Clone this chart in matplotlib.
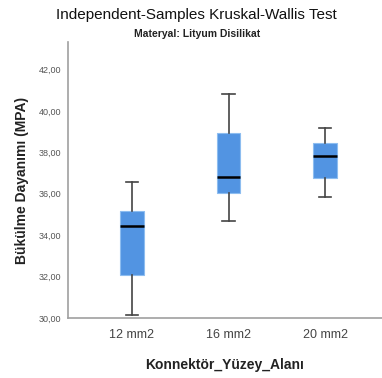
import matplotlib
matplotlib.use("Agg")
import matplotlib.pyplot as plt

categories = ["12 mm2", "16 mm2", "20 mm2"]
whislo = [30.13, 34.70, 35.86]
q1 = [32.08, 36.02, 36.75]
med = [34.44, 36.83, 37.84]
q3 = [35.17, 38.95, 38.47]
whishi = [36.57, 40.80, 39.16]
yticks = [30, 32, 34, 36, 38, 40, 42]

plt.rcParams['font.family'] = ['Liberation Sans', 'DejaVu Sans']

fig = plt.figure(figsize=(3.82, 3.78), dpi=100)
ax = fig.add_axes([0.178, 0.1587, 0.822, 0.730])

stats = []
for i, c in enumerate(categories):
    stats.append(dict(label=c, whislo=whislo[i], q1=q1[i], med=med[i],
                      q3=q3[i], whishi=whishi[i], fliers=[]))

ax.bxp(stats, positions=range(len(categories)), widths=0.24, patch_artist=True,
       showfliers=False,
       boxprops=dict(facecolor='#5294E2', edgecolor='#8DBDF0', linewidth=0.8),
       medianprops=dict(color='black', linewidth=1.8),
       whiskerprops=dict(color='#444444', linewidth=1.2),
       capprops=dict(color='#444444', linewidth=1.2),
       capwidths=0.13)

ax.set_xlim(-0.663, 2.59)
ax.set_ylim(30, 43.33)
ax.set_yticks(yticks)
ax.set_yticklabels([f"{v:.2f}".replace('.', ',') for v in yticks], fontsize=6.5, color='#555555')
ax.set_xticks(range(len(categories)))
ax.set_xticklabels(categories, fontsize=9, color='#444444')
ax.tick_params(axis='both', length=0)
ax.tick_params(axis='y', pad=5)
ax.tick_params(axis='x', pad=8)

for s in ['top', 'right']:
    ax.spines[s].set_visible(False)
for s in ['left', 'bottom']:
    ax.spines[s].set_color('#A0A0A0')
    ax.spines[s].set_linewidth(1.2)

ax.set_ylabel("Bükülme Dayanımı (MPA)", fontsize=10, fontweight='bold', color='#222222', labelpad=7)
ax.set_xlabel("Konnektör_Yüzey_Alanı", fontsize=10, fontweight='bold', color='#222222', labelpad=12)

fig.text(0.515, 0.980, "Independent-Samples Kruskal-Wallis Test", ha='center', va='top',
         fontsize=11, color='#111111')
fig.text(0.515, 0.922, "Materyal: Lityum Disilikat", ha='center', va='top',
         fontsize=7.5, fontweight='bold', color='#222222')

fig.savefig("out.png", dpi=100)
